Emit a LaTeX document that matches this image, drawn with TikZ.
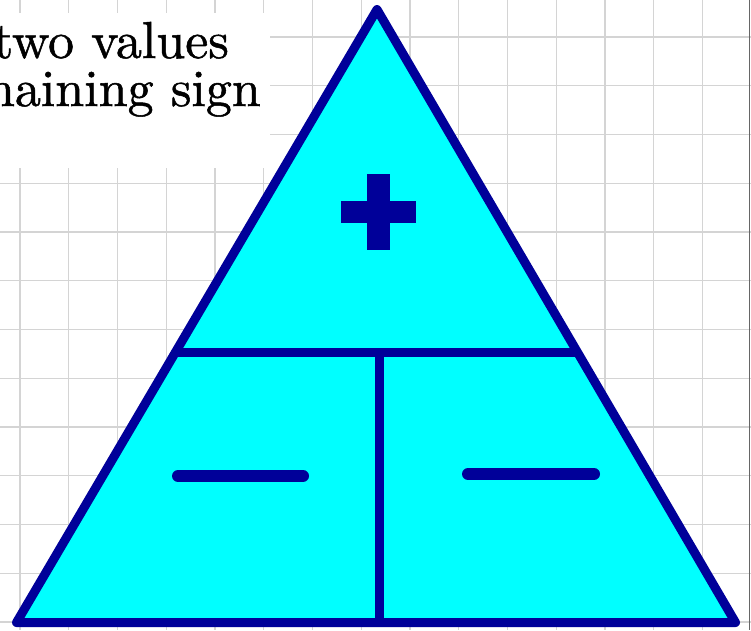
\documentclass[tikz,border=0pt]{standalone}
\usepackage{fontspec}
\newfontfamily\capfont[Extension=.otf,FakeBold=1]{lmroman10-regular}
\usetikzlibrary{calc}
\definecolor{edgeblue}{RGB}{0,0,153}
\definecolor{fillcyan}{RGB}{0,255,255}
\definecolor{gridgray}{RGB}{212,212,212}
\begin{document}
\begin{tikzpicture}[x=1pt,y=-1pt,
  gridline/.style={draw=gridgray,line width=1.3pt},
  edge/.style={draw=edgeblue,line width=9pt,line join=round},
  signbar/.style={draw=edgeblue,line width=12pt,line cap=round},
  caption/.style={inner sep=0pt,font=\capfont\fontsize{52}{54}\selectfont}]
\useasboundingbox (0,0) rectangle (751,630);
\fill[white] (0,0) rectangle (751,630);
% grid
\foreach \i in {0,...,14} {\draw[gridline] (20+48.75*\i,0) -- (20+48.75*\i,630);}
\foreach \j in {0,...,12} {\draw[gridline] (0,37+48.75*\j) -- (751,37+48.75*\j);}
\draw[draw=gray!80!black,line width=1.6pt] (749.5,0) -- (749.5,630);
% caption box
\fill[white] (-5,13) rectangle (270,168);
\node[caption,anchor=base east] (t1) at (229,58) {two values};
\node[caption,anchor=base east] (t2) at (261,106) {remaining sign};
% triangle
\coordinate (A) at (377,9.5);
\coordinate (B) at (16.5,622.5);
\coordinate (C) at (735.5,622.5);
\coordinate (L) at ($(B)!0.4405!(A)$);
\coordinate (R) at ($(C)!0.4405!(A)$);
\fill[fillcyan] (A) -- (B) -- (C) -- cycle;
\draw[edge] (L) -- (R);
\draw[edge] (379.5,352) coordinate (M) -- (379.5,622.5) coordinate (N);
\draw[edge] (A) -- (B) -- (C) -- cycle;
% plus
\fill[edgeblue] (366.7,174) rectangle (390,250);
\fill[edgeblue] (341,201) rectangle (415.7,223);
% minus signs
\draw[signbar] (178,476) coordinate (m1) -- (303,476) coordinate (m2);
\draw[signbar] (468,474) coordinate (m3) -- (594,474) coordinate (m4);
\end{tikzpicture}
\end{document}
